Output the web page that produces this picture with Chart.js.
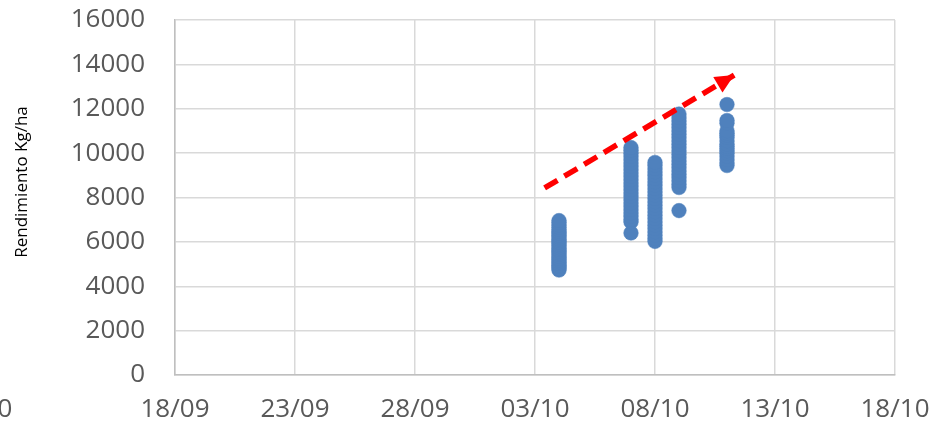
<!DOCTYPE html>
<html>
<head>
<meta charset="utf-8">
<script src="https://cdn.jsdelivr.net/npm/chart.js@4.4.1/dist/chart.umd.min.js"></script>
<style>
  html, body { margin: 0; padding: 0; background: #fff; }
  #wrap { width: 949px; height: 432px; }
</style>
</head>
<body>
<div id="wrap"><canvas id="grafico"></canvas></div>
<script>
// Datos: días contados desde el 18/09
const diasSiembra = [16, 19, 20, 21, 23]; // 04/10, 07/10, 08/10, 09/10, 11/10
const rend04 = [4730, 4800, 4880, 4950, 5020, 5100, 5180, 5250, 5330, 5420, 5500, 5580, 5650, 5730, 5820, 5900, 5980, 6050, 6130, 6220, 6300, 6380, 6460, 6550, 6650, 6760, 6870, 6960];
const rend07 = [6400, 6900, 7000, 7150, 7300, 7450, 7600, 7750, 7900, 8050, 8200, 8350, 8500, 8650, 8800, 8950, 9100, 9250, 9400, 9550, 9700, 9850, 10000, 10120, 10250];
const rend08 = [6020, 6150, 6300, 6450, 6600, 6750, 6900, 7050, 7200, 7350, 7500, 7650, 7800, 7950, 8100, 8250, 8400, 8550, 8700, 8850, 9000, 9150, 9300, 9450, 9580];
const rend09 = [7410, 8450, 8600, 8750, 8900, 9050, 9200, 9350, 9500, 9650, 9800, 9950, 10100, 10250, 10400, 10550, 10700, 10850, 11000, 11150, 11300, 11450, 11600, 11760];
const rend11 = [9440, 9550, 9700, 9850, 10000, 10100, 10200, 10300, 10400, 10550, 10700, 10800, 10900, 11000, 11350, 11470, 12190];
const rendimientos = [rend04, rend07, rend08, rend09, rend11];

// Flecha de tendencia (x en días, y en Kg/ha)
const flechaX = [15.4, 23.3];
const flechaY = [8430, 13520];

const fechaBase = Date.UTC(2019, 8, 18);
function fmtFecha(d){
  const f = new Date(fechaBase + d*86400000);
  return String(f.getUTCDate()).padStart(2,"0") + "/" + String(f.getUTCMonth()+1).padStart(2,"0");
}

const puntos = [];
rendimientos.forEach((serie, i)=>{
  serie.forEach(v=> puntos.push({ x: diasSiembra[i], y: v }));
});

const fuente = "'Open Sans', 'Liberation Sans', sans-serif";
const gris = "#595959";

// punta de flecha + textos sueltos
const extras = {
  id: "extras",
  afterDatasetsDraw(chart){
    const { ctx, scales: { x, y } } = chart;
    const x0 = x.getPixelForValue(flechaX[0]), y0 = y.getPixelForValue(flechaY[0]);
    const x1 = x.getPixelForValue(flechaX[1]), y1 = y.getPixelForValue(flechaY[1]);
    const ang = Math.atan2(y1 - y0, x1 - x0);
    const largo = 19, ancho = 9;
    ctx.save();
    ctx.fillStyle = "#ff0000";
    ctx.translate(x1, y1);
    ctx.rotate(ang);
    ctx.beginPath();
    ctx.moveTo(0, 0);
    ctx.lineTo(-largo, -ancho);
    ctx.lineTo(-largo, ancho);
    ctx.closePath();
    ctx.fill();
    ctx.restore();
  },
  afterDraw(chart){
    const { ctx } = chart;
    ctx.save();
    ctx.fillStyle = gris;
    ctx.font = "26px " + fuente;
    ctx.textAlign = "center";
    ctx.textBaseline = "middle";
    ctx.fillText("0", 5, 410);
    ctx.fillStyle = "#000";
    ctx.font = "17px " + fuente;
    ctx.translate(22, 182);
    ctx.rotate(-Math.PI/2);
    ctx.fillText("Rendimiento Kg/ha", 0, 0);
    ctx.restore();
  }
};

new Chart(document.getElementById("grafico"), {
  type: "scatter",
  data: {
    datasets: [
      {
        type: "line",
        data: flechaX.map((v, i)=>({ x: v, y: flechaY[i] })),
        borderColor: "#ff0000",
        borderWidth: 5.5,
        borderDash: [15, 8],
        pointRadius: 0,
        fill: false,
        order: 0
      },
      {
        data: puntos,
        backgroundColor: "#4f81bd",
        borderColor: "#4f81bd",
        borderWidth: 0.5,
        pointRadius: 7.3,
        order: 1
      }
    ]
  },
  options: {
    responsive: true,
    maintainAspectRatio: false,
    animation: false,
    layout: { padding: { top: 20, right: 54, left: 0, bottom: 0 } },
    plugins: { legend: { display: false }, tooltip: { enabled: false } },
    scales: {
      x: {
        type: "linear",
        min: 0, max: 30,
        afterFit: (s)=>{ s.height = 57; s.paddingLeft = 0; s.paddingRight = 0; },
        ticks: { stepSize: 5, padding: 19, color: gris, font: { family: fuente, size: 26 }, callback: (v)=> fmtFecha(v), maxRotation: 0 },
        grid: { color: "#d9d9d9", lineWidth: 1.5, drawTicks: false },
        border: { color: "#bfbfbf", width: 1.5 }
      },
      y: {
        min: 0, max: 16000,
        afterFit: (s)=>{ s.width = 175; s.paddingTop = 0; s.paddingBottom = 0; },
        ticks: { stepSize: 2000, padding: 30, color: gris, font: { family: fuente, size: 26 }, callback: (v)=> String(v) },
        grid: { color: "#d9d9d9", lineWidth: 1.5, drawTicks: false },
        border: { color: "#bfbfbf", width: 1.5 }
      }
    }
  },
  plugins: [extras]
});
</script>
</body>
</html>
